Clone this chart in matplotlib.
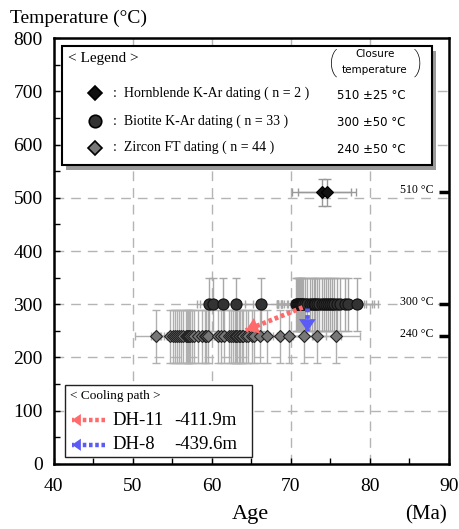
import numpy as np
import matplotlib.pyplot as plt
from matplotlib.transforms import blended_transform_factory
from matplotlib.patches import Rectangle

# ages (Ma), closure temperatures and age errors
hb_age = [73.9, 74.6]
hb_xerr = [3.7, 3.7]
hb_temp = 510
hb_terr = 25

bt_age = [59.6, 60.1, 61.4, 63.0, 66.2, 70.6, 70.8, 70.9, 71.0, 71.2,
          71.3, 71.4, 71.6, 71.8, 72.1, 72.4, 72.7, 72.9, 73.0, 73.3,
          73.6, 74.0, 74.2, 74.5, 74.7, 74.9, 75.2, 75.5, 75.9, 76.2,
          76.8, 77.2, 78.4]
bt_xerr = [1.5, 1.6, 2.0, 2.2, 2.0, 2.4, 2.6, 2.5, 2.3, 2.8,
           2.6, 3.0, 2.7, 2.9, 3.0, 2.8, 3.2, 2.9, 3.0, 3.3,
           3.1, 3.4, 3.0, 3.5, 3.2, 3.4, 3.1, 3.3, 3.6, 3.0,
           3.5, 3.3, 2.6]
bt_temp = 300
bt_terr = 50

zr_age = [52.9, 54.7, 55.1, 55.3, 55.6, 55.9, 56.1, 56.4, 56.7, 56.9,
          57.0, 57.1, 57.3, 57.5, 57.8, 58.3, 58.7, 59.1, 59.3, 59.5,
          60.8, 61.2, 61.5, 62.2, 62.4, 62.7, 62.9, 63.0, 63.2, 63.5,
          63.6, 63.8, 64.0, 64.3, 64.6, 65.1, 65.4, 66.1, 67.0, 68.6,
          69.8, 71.7, 73.3, 75.7]
zr_xerr = [2.6, 2.4, 2.5, 2.2, 2.6, 2.3, 2.7, 2.5, 2.4, 2.6,
           2.2, 2.8, 2.5, 2.4, 2.6, 2.7, 2.5, 2.8, 2.4, 2.6,
           2.7, 2.5, 2.8, 2.6, 2.4, 2.9, 2.5, 2.7, 2.6, 2.8,
           2.5, 2.7, 2.9, 2.6, 2.8, 2.7, 2.9, 2.8, 2.6, 2.9,
           3.0, 2.8, 3.0, 3.0]
zr_temp = 240
zr_terr = 50

# cooling paths: (start age, start T) -> (end age, end T)
dh11_path = [(71.5, 294), (64.3, 251)]
dh8_path = [(72.1, 292), (72.1, 249)]

serif = 'Liberation Serif'

fig = plt.figure(figsize=(4.6, 5.29), dpi=100)
ax = fig.add_axes([0.117, 0.123, 0.8587, 0.805])

ax.set_xlim(40, 90)
ax.set_ylim(0, 800)
ax.set_xticks(np.arange(40, 91, 10))
ax.set_xticks(np.arange(45, 90, 5), minor=True)
ax.set_yticks(np.arange(0, 801, 100))
ax.set_yticks(np.arange(50, 800, 100), minor=True)
ax.tick_params(which='both', direction='in', length=4, width=1)
ax.tick_params(axis='x', labelsize=14, pad=10)
ax.tick_params(axis='y', labelsize=14, pad=8)
for lab in ax.get_xticklabels() + ax.get_yticklabels():
    lab.set_family(serif)
for s in ax.spines.values():
    s.set_linewidth(1.8)

for gx in [50, 60, 70, 80]:
    ax.axvline(gx, color='#b4b4b4', lw=1, ls=(0, (7, 5)), zorder=0)
for gy in range(100, 800, 100):
    ax.axhline(gy, color='#b4b4b4', lw=1, ls=(0, (7, 5)), zorder=0)

# error bars
ax.errorbar(zr_age, [zr_temp] * len(zr_age), xerr=zr_xerr, yerr=zr_terr,
            fmt='none', ecolor='#b0b0b0', elinewidth=1, capsize=3, zorder=1)
ax.errorbar(bt_age, [bt_temp] * len(bt_age), xerr=bt_xerr, yerr=bt_terr,
            fmt='none', ecolor='#a8a8a8', elinewidth=1, capsize=3, zorder=1)
ax.errorbar(hb_age, [hb_temp] * len(hb_age), xerr=hb_xerr, yerr=hb_terr,
            fmt='none', ecolor='#999999', elinewidth=1, capsize=3, zorder=1)

# points
ax.plot(zr_age, [zr_temp] * len(zr_age), ls='', marker='D', ms=6.5,
        mfc='#777777', mec='#222222', mew=0.8, zorder=3)
ax.plot(bt_age, [bt_temp] * len(bt_age), ls='', marker='o', ms=8,
        mfc='#333333', mec='#111111', mew=0.8, zorder=3)
ax.plot(hb_age, [hb_temp] * len(hb_age), ls='', marker='D', ms=6.5,
        mfc='#111111', mec='#000000', mew=0.8, zorder=3)


def dotted_arrow(ax, p0, p1, color, transform=None, z=4, head=11, lw=3):
    tr = ax.transData if transform is None else transform
    ax.plot([p0[0], p1[0]], [p0[1], p1[1]], transform=tr, color=color, lw=lw,
            ls=(0, (0.8, 0.6)), solid_capstyle='butt', dash_capstyle='butt',
            zorder=z, clip_on=False)
    ax.annotate('', xy=p1, xytext=p0, xycoords=tr, textcoords=tr, zorder=z + 0.1,
                arrowprops=dict(arrowstyle='-|>,head_width=0.55,head_length=0.8',
                                lw=0, color=color, shrinkA=0, shrinkB=0,
                                mutation_scale=head))


red = '#ff6a6a'
blue = '#5b5bf5'
dotted_arrow(ax, dh11_path[0], dh11_path[1], red, head=11, lw=3.4)
dotted_arrow(ax, dh8_path[0], dh8_path[1], blue, head=11, lw=3.4)

# closure temperature markers on right side
tr = blended_transform_factory(ax.transAxes, ax.transData)
for t in [hb_temp, bt_temp, zr_temp]:
    ax.plot([0.975, 1.0], [t, t], transform=tr, color='black', lw=2.5,
            solid_capstyle='butt', clip_on=False, zorder=5)
    ax.text(0.962, t + 4, f'{t} °C', transform=tr, ha='right', va='center',
            fontsize=8.5, family=serif, zorder=5,
            bbox=dict(fc='white', ec='none', pad=0.5))

# main legend
A = ax.transAxes
ax.add_patch(Rectangle((0.030, 0.690), 0.937, 0.279, transform=A,
                       fc='#9a9a9a', ec='none', zorder=6))
ax.add_patch(Rectangle((0.020, 0.702), 0.937, 0.279, transform=A,
                       fc='white', ec='black', lw=1.5, zorder=7))
ax.text(0.035, 0.951, '< Legend >', transform=A, fontsize=11, family=serif,
        va='center', zorder=8)
ax.text(0.813, 0.962, 'Closure', transform=A, fontsize=7.5, family='DejaVu Sans',
        ha='center', va='center', zorder=8)
ax.text(0.813, 0.924, 'temperature', transform=A, fontsize=7.5, family='DejaVu Sans',
        ha='center', va='center', zorder=8)
ax.text(0.706, 0.943, '(', transform=A, fontsize=20, family='Roboto',
        fontweight='light', ha='center', va='center', zorder=8)
ax.text(0.921, 0.943, ')', transform=A, fontsize=20, family='Roboto',
        fontweight='light', ha='center', va='center', zorder=8)

entries = [
    ('D', 7.5, '#111111', ':  Hornblende K-Ar dating ( n = 2 )', '510 ±25 °C', 0.870),
    ('o', 9, '#333333', ':  Biotite K-Ar dating ( n = 33 )', '300 ±50 °C', 0.805),
    ('D', 7.5, '#777777', ':  Zircon FT dating ( n = 44 )', '240 ±50 °C', 0.743),
]
for mk, ms, fc, label, ct, y in entries:
    ax.plot([0.104], [y], transform=A, marker=mk, ms=ms, mfc=fc, mec='#000000',
            mew=1.2, ls='', zorder=8, clip_on=False)
    ax.text(0.149, y, label, transform=A, fontsize=10, family=serif,
            va='center', zorder=8)
    ax.text(0.718, y - 0.004, ct, transform=A, fontsize=8.5, family='DejaVu Sans',
            va='center', zorder=8)

# cooling path legend
ax.add_patch(Rectangle((0.028, 0.016), 0.473, 0.169, transform=A,
                       fc='white', ec='#222222', lw=1, zorder=6))
ax.text(0.041, 0.160, '< Cooling path >', transform=A, fontsize=9.5, family=serif,
        va='center', zorder=8)
for color, name, depth, y in [(red, 'DH-11', '-411.9m', 0.103),
                              (blue, 'DH-8', '-439.6m', 0.045)]:
    dotted_arrow(ax, (0.129, y), (0.046, y), color, transform=A, z=8, head=8, lw=3.2)
    ax.text(0.149, y, name, transform=A, fontsize=13.5, family=serif,
            va='center', zorder=8)
    ax.text(0.306, y, depth, transform=A, fontsize=13.5, family=serif,
            va='center', zorder=8)

# axis titles
fig.text(10 / 460, 1 - 18 / 529, 'Temperature (°C)', fontsize=14, family=serif,
         va='center', ha='left')
fig.text(250 / 460, 1 - 515 / 529, 'Age', fontsize=16, family=serif,
         va='center', ha='center')
fig.text(426 / 460, 1 - 515 / 529, '(Ma)', fontsize=15, family=serif,
         va='center', ha='center')

fig.savefig('out.png', dpi=100)
